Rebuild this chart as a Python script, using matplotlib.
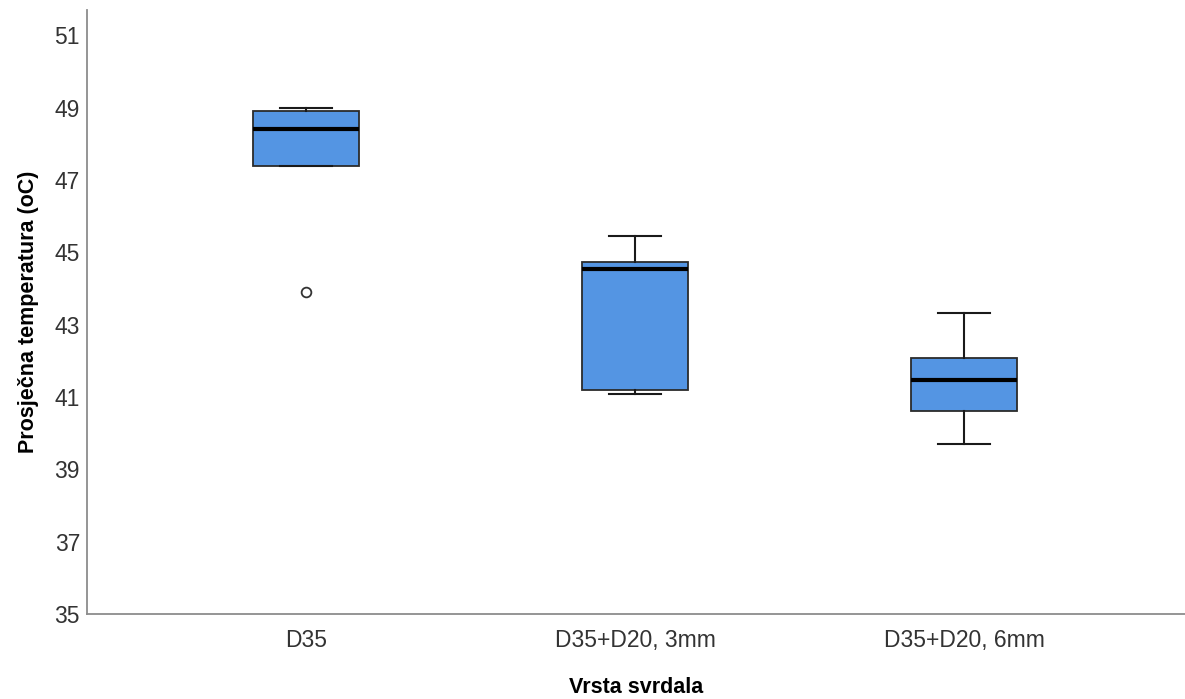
import matplotlib
matplotlib.use('Agg')
import matplotlib.pyplot as plt

plt.rcParams['font.family'] = ['Liberation Sans', 'DejaVu Sans']

# box statistics
categories = ['D35', 'D35+D20, 3mm', 'D35+D20, 6mm']
whislo = [47.38, 41.07, 39.70]
q1 = [47.40, 41.19, 40.62]
med = [48.40, 44.55, 41.48]
q3 = [48.90, 44.73, 42.09]
whishi = [48.98, 45.44, 43.31]
fliers = [[43.90], [], []]

yticks = [35, 37, 39, 41, 43, 45, 47, 49, 51]

stats = []
for i, name in enumerate(categories):
    stats.append(dict(label=name, whislo=whislo[i], q1=q1[i], med=med[i],
                      q3=q3[i], whishi=whishi[i], fliers=fliers[i]))

fig = plt.figure(figsize=(11.85, 6.99), dpi=100)
ax = fig.add_axes([0.0734, 0.1216, 0.9266, 0.8641])

ax.bxp(stats, positions=[1, 2, 3], widths=0.322, patch_artist=True,
       boxprops=dict(facecolor='#5495e3', edgecolor='#2b2b2b', linewidth=1.3),
       medianprops=dict(color='black', linewidth=3),
       whiskerprops=dict(color='#1a1a1a', linewidth=1.5),
       capprops=dict(color='#1a1a1a', linewidth=1.5),
       capwidths=0.16,
       flierprops=dict(marker='o', markersize=7, markerfacecolor='white',
                       markeredgecolor='#333333', markeredgewidth=1.3))

ax.set_xlim(0.334, 3.672)
ax.set_ylim(35, 51.70)
ax.set_yticks(yticks)
ax.set_yticklabels([str(t) for t in yticks])

for side in ['top', 'right']:
    ax.spines[side].set_visible(False)
for side in ['left', 'bottom']:
    ax.spines[side].set_color('#8c8c8c')
    ax.spines[side].set_linewidth(1.3)

ax.tick_params(axis='both', length=0, labelsize=16.5, colors='#333333')
ax.tick_params(axis='x', pad=11)
ax.tick_params(axis='y', pad=5)

ax.set_xlabel('Vrsta svrdala', fontsize=15.5, fontweight='bold', labelpad=18)
ax.set_ylabel('Prosječna temperatura (oC)', fontsize=15.5, fontweight='bold', labelpad=11)

fig.savefig('out.png', dpi=100)
